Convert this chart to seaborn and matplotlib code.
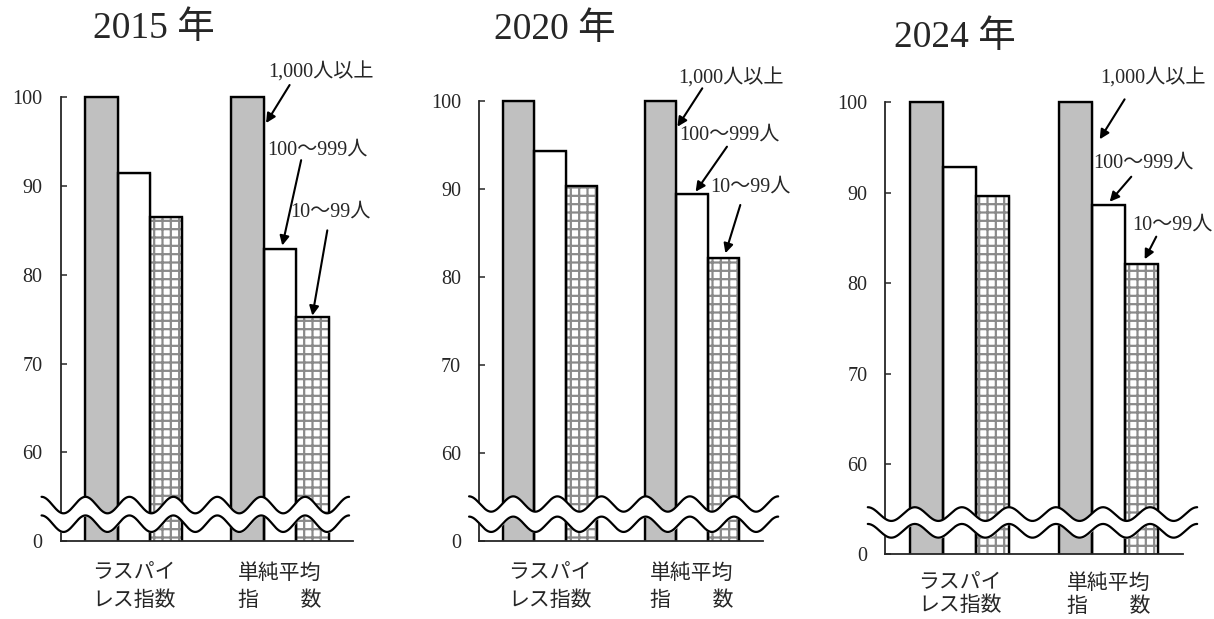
import numpy as np
import pandas as pd
import matplotlib
matplotlib.use('Agg')
import matplotlib.pyplot as plt
import seaborn as sns

# data
years = ['2015 年', '2020 年', '2024 年']
indices = ['ラスパイ\nレス指数', '単純平均\n指\u3000\u3000数']
sizes = ['1,000人以上', '100〜999人', '10〜99人']
v2015 = [100, 91.5, 86.5, 100, 82.9, 75.2]
v2020 = [100, 94.3, 90.3, 100, 89.4, 82.1]
v2024 = [100, 92.8, 89.6, 100, 88.6, 82.1]
yticks = [50, 60, 70, 80, 90, 100]
ytick_labels = ['0', '60', '70', '80', '90', '100']

sns.set_style('ticks')
fam = ['Liberation Serif', 'Noto Sans CJK JP']
plt.rcParams['font.family'] = fam
plt.rcParams['hatch.linewidth'] = 1.6

fig = plt.figure(figsize=(12.14, 6.19), dpi=100)

# layout per panel: axes rect, title pos, label spacing, break waves, notes
rects = [[0.0500, 0.1260, 0.2408, 0.7239],
         [0.3948, 0.1260, 0.2337, 0.7184],
         [0.7294, 0.1045, 0.2451, 0.7375]]
title_pos = [(154, 29), (555, 30), (955, 38)]
xlab_style = [(17, 1.5), (17, 1.5), (14, 1.25)]
waves = [(-0.631, 1.473, 54.05, 51.95, 0.93),
         (-0.572, 1.607, 54.2, 51.9, 0.87),
         (-0.619, 1.595, 54.45, 52.6, 0.76)]
# (text xy, arrow start, arrow tip) in data units
notes = [
    [((1.283, 102.86), (1.066, 101.39), (0.905, 97.1)),
     ((1.256, 94.05), (1.145, 92.92), (1.016, 83.3)),
     ((1.344, 87.04), (1.324, 85.01), (1.222, 75.4))],
    [((1.272, 102.58), (1.072, 101.41), (0.897, 97.05)),
     ((1.265, 96.11), (1.246, 94.78), (1.025, 89.67)),
     ((1.412, 90.20), (1.340, 88.16), (1.235, 82.68))],
    [((1.295, 102.69), (1.107, 100.33), (0.940, 95.91)),
     ((1.235, 93.29), (1.152, 91.77), (1.007, 89.00)),
     ((1.430, 86.43), (1.320, 85.14), (1.242, 82.64))],
]

for i, vals in enumerate([v2015, v2020, v2024]):
    df = pd.DataFrame({
        'index': [idx for idx in indices for _ in sizes],
        'size': sizes * len(indices),
        'value': vals,
    })
    ax = fig.add_axes(rects[i])
    sns.barplot(data=df, x='index', y='value', hue='size', order=indices,
                hue_order=sizes, palette=['#c0c0c0', 'white', 'white'],
                width=0.665, edgecolor='#8a8a8a', linewidth=1,
                saturation=1, legend=False, ax=ax)
    for bar in ax.containers[2]:
        bar.set_hatch('++')
    sns.barplot(data=df, x='index', y='value', hue='size', order=indices,
                hue_order=sizes, palette=['black'] * 3, fill=False,
                width=0.665, linewidth=1.7, legend=False, ax=ax)

    pad, ls = xlab_style[i]
    ax.set_xlim(-0.5, 1.5)
    ax.set_ylim(50, 100.5)
    ax.set_yticks(yticks)
    ax.set_yticklabels(ytick_labels, fontsize=14.5)
    ax.set_xticks([0, 1])
    ax.set_xticklabels(indices, fontsize=15, linespacing=ls)
    ax.tick_params(axis='y', direction='in', length=4, width=1.1, pad=13)
    ax.tick_params(axis='x', length=0, pad=pad)
    ax.set_xlabel('')
    ax.set_ylabel('')
    for s in ['top', 'right']:
        ax.spines[s].set_visible(False)
    ax.spines['left'].set_bounds(50, 100)
    ax.spines['left'].set_linewidth(1.3)
    ax.spines['bottom'].set_linewidth(1.3)

    # axis break
    x0, x1, ct, cl, amp = waves[i]
    xs = np.linspace(x0, x1, 600)
    w = amp * np.cos(2 * np.pi * 7 * (xs - x0) / (x1 - x0))
    ax.fill_between(xs, cl + w, ct + w, color='white', zorder=3, clip_on=False)
    ax.plot(xs, ct + w, color='black', lw=1.6, zorder=4, clip_on=False)
    ax.plot(xs, cl + w, color='black', lw=1.6, zorder=4, clip_on=False)

    for lab, (txt, start, tip) in zip(sizes, notes[i]):
        ax.text(txt[0], txt[1], lab, fontsize=14.5, ha='center', va='center',
                clip_on=False)
        ax.annotate('', xy=tip, xytext=start, annotation_clip=False,
                    arrowprops=dict(arrowstyle='-|>', color='black', lw=1.5,
                                    mutation_scale=14, shrinkA=0, shrinkB=0))

    tx, ty = title_pos[i]
    fig.text(tx / 1214, 1 - ty / 619, years[i], fontsize=27,
             ha='center', va='center')

fig.savefig('out.png', dpi=100)
